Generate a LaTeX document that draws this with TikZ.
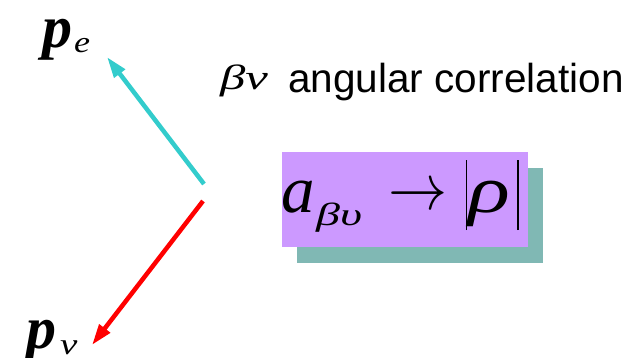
\documentclass[tikz,border=0pt]{standalone}
\usepackage{fontspec}
\setmainfont{Liberation Serif}
\newfontfamily\arialfont{Liberation Sans}
\usetikzlibrary{arrows.meta}
\definecolor{cyanarrow}{RGB}{51,204,204}
\definecolor{redarrow}{RGB}{255,0,0}
\definecolor{boxpurple}{RGB}{204,153,255}
\definecolor{boxshadow}{RGB}{128,184,180}
\tikzset{
  vec/.style={line width=4.5pt, -{Triangle[length=21pt,width=13pt]}},
  lbl/.style={inner sep=0pt, anchor=base west},
  panel/.style={minimum width=246pt, minimum height=95pt, inner sep=0pt, draw=none},
}
\begin{document}
\begin{tikzpicture}[x=1pt,y=-1pt]
\useasboundingbox (0,0) rectangle (637,357);
% vectors
\coordinate (ctail) at (204,184);
\coordinate (ctip) at (107,57);
\coordinate (rtail) at (203,201);
\coordinate (rtip) at (92,345);
\draw[vec, cyanarrow] (ctail) -- (ctip);
\draw[vec, redarrow] (rtail) -- (rtip);
% labels of vectors
\node[lbl] (pe) at (42,47) {\fontsize{60}{60}\selectfont\bfseries\itshape p};
\node[lbl] (pesub) at (74,52) {\scalebox{1.2}[1]{\fontsize{30}{30}\selectfont\itshape e}};
\node[lbl] (pnu) at (26,348) {\fontsize{60}{60}\selectfont\bfseries\itshape p};
\node[lbl] (pnusub) at (60,354) {\scalebox{1.3}[1]{\fontsize{30}{30}\selectfont\itshape ν}};
% title
\node[lbl] (bn) at (220,89) {\scalebox{1.45}[1]{\fontsize{35}{35}\selectfont\itshape βν}};
\node[lbl] (title) at (288,92) {\arialfont\fontsize{40.5}{40.5}\selectfont angular correlation};
% boxes
\node[panel, fill=boxshadow] (shadow) at (420,215.5) {};
\node[panel, fill=boxpurple] (box) at (405,199.5) {};
% formula
\node[lbl] (fa) at (281,212) {\fontsize{67}{67}\selectfont\itshape a};
\node[lbl] (fsub) at (316,225) {\scalebox{1.5}[1]{\fontsize{32}{32}\selectfont\itshape βυ}};
\node[inner sep=0pt] (farrow) at (417.5,197) {\resizebox{59pt}{24pt}{$\rightarrow$}};
\node[inner sep=0pt] (fbarl) at (466.5,195) {\rule{1.6pt}{70pt}};
\node[lbl] (frho) at (468,212) {\scalebox{1.3}[1]{\fontsize{67}{67}\selectfont\itshape ρ}};
\node[inner sep=0pt] (fbarr) at (518,195) {\rule{1.6pt}{70pt}};
\end{tikzpicture}
\end{document}
